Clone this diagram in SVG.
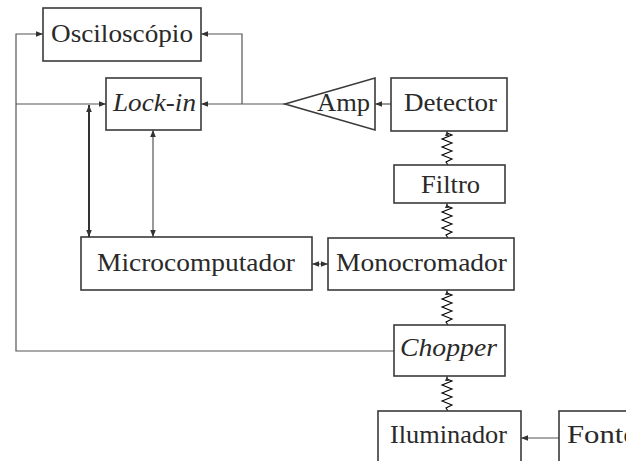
<svg xmlns="http://www.w3.org/2000/svg" width="626" height="461" viewBox="0 0 626 461">
<style>
.box{fill:#fff;stroke:#3a3a3a;stroke-width:1.6}
.t{font-family:'Liberation Serif',Tinos,'Times New Roman',Times,serif;font-size:25px;fill:#2a2a2a}
.i{font-style:italic}
.ln{fill:none;stroke:#555;stroke-width:1.2}
.thk{fill:none;stroke:#333;stroke-width:2}
.zz{fill:none;stroke:#000;stroke-width:1.1}
</style>
<defs>
<marker id="ah" viewBox="0 0 10 10" refX="10" refY="5" markerWidth="7" markerHeight="7" markerUnits="userSpaceOnUse" orient="auto-start-reverse">
<path d="M0,1 L10,5 L0,9 z" fill="#333"/>
</marker>
<marker id="ahs" viewBox="0 0 10 10" refX="10" refY="5" markerWidth="5" markerHeight="5" markerUnits="userSpaceOnUse" orient="auto-start-reverse">
<path d="M0,1 L10,5 L0,9 z" fill="#333"/>
</marker>
</defs>
<rect width="626" height="461" fill="#fff"/>
<g id="connectors">
<path class="ln" d="M394,351 H16 V34 H43" marker-end="url(#ah)"/>
<path class="ln" d="M16,104 H106" marker-end="url(#ah)"/>
<path class="ln" d="M285,104 H201" marker-end="url(#ah)"/>
<path class="ln" d="M242,104 V34 H201" marker-end="url(#ah)"/>
<path class="ln" d="M391,104 H375" marker-end="url(#ah)"/>
<path class="thk" d="M89,105 V237" marker-start="url(#ah)" marker-end="url(#ah)"/>
<path class="ln" d="M153,130 V237" marker-start="url(#ah)" marker-end="url(#ah)"/>
<path class="ln" d="M312,264 H328" marker-start="url(#ah)" marker-end="url(#ah)"/>
<path class="ln" d="M559,438 H521" marker-end="url(#ah)"/>
<g id="zig1"><path class="zz" d="M448,165 L446,162 L452,159 L442,155 L452,151 L442,147 L452,143 L442,139 L452,135 L447,133" /><path class="ln" d="M447,133 V131" marker-end="url(#ahs)"/></g>
<g id="zig2"><path class="zz" d="M448,238 L446,235 L452,232 L442,228 L452,224 L442,220 L452,216 L442,212 L452,208 L447,206" /><path class="ln" d="M447,206 V203" marker-end="url(#ahs)"/></g>
<g id="zig3"><path class="zz" d="M448,325 L446,322 L452,319 L442,315 L452,311 L442,307 L452,303 L442,299 L452,295 L447,293" /><path class="ln" d="M447,293 V290" marker-end="url(#ahs)"/></g>
<g id="zig4"><path class="zz" d="M448,411 L446,408 L452,405 L442,401 L452,397 L442,393 L452,389 L442,385 L452,381 L447,379" /><path class="ln" d="M447,379 V376" marker-end="url(#ahs)"/></g>
</g>
<g id="osciloscopio"><rect class="box" x="43" y="8" width="158" height="53"/><text class="t" x="51" y="42" textLength="142" lengthAdjust="spacingAndGlyphs">Osciloscópio</text></g>
<g id="lockin"><rect class="box" x="106" y="78" width="95" height="52"/><text class="t i" x="113" y="111" textLength="83" lengthAdjust="spacingAndGlyphs">Lock-in</text></g>
<g id="amp"><path class="box" d="M285,104 L375,78 V130 Z"/><text class="t" x="317" y="111" textLength="53" lengthAdjust="spacingAndGlyphs">Amp</text></g>
<g id="detector"><rect class="box" x="391" y="78" width="116" height="53"/><text class="t" x="404" y="111" textLength="93" lengthAdjust="spacingAndGlyphs">Detector</text></g>
<g id="filtro"><rect class="box" x="394" y="165" width="111" height="38"/><text class="t" x="421" y="193" textLength="59" lengthAdjust="spacingAndGlyphs">Filtro</text></g>
<g id="microcomputador"><rect class="box" x="81" y="237" width="231" height="53"/><text class="t" x="97" y="271" textLength="198" lengthAdjust="spacingAndGlyphs">Microcomputador</text></g>
<g id="monocromador"><rect class="box" x="328" y="238" width="186" height="52"/><text class="t" x="336" y="271" textLength="171" lengthAdjust="spacingAndGlyphs">Monocromador</text></g>
<g id="chopper"><rect class="box" x="394" y="325" width="111" height="51"/><text class="t i" x="400" y="356" textLength="97" lengthAdjust="spacingAndGlyphs">Chopper</text></g>
<g id="iluminador"><rect class="box" x="378" y="411" width="143" height="60"/><text class="t" x="390" y="443" textLength="117" lengthAdjust="spacingAndGlyphs">Iluminador</text></g>
<g id="fonte"><rect class="box" x="559" y="411" width="90" height="60"/><text class="t" x="567" y="443" textLength="70" lengthAdjust="spacingAndGlyphs">Fonte</text></g>
</svg>
